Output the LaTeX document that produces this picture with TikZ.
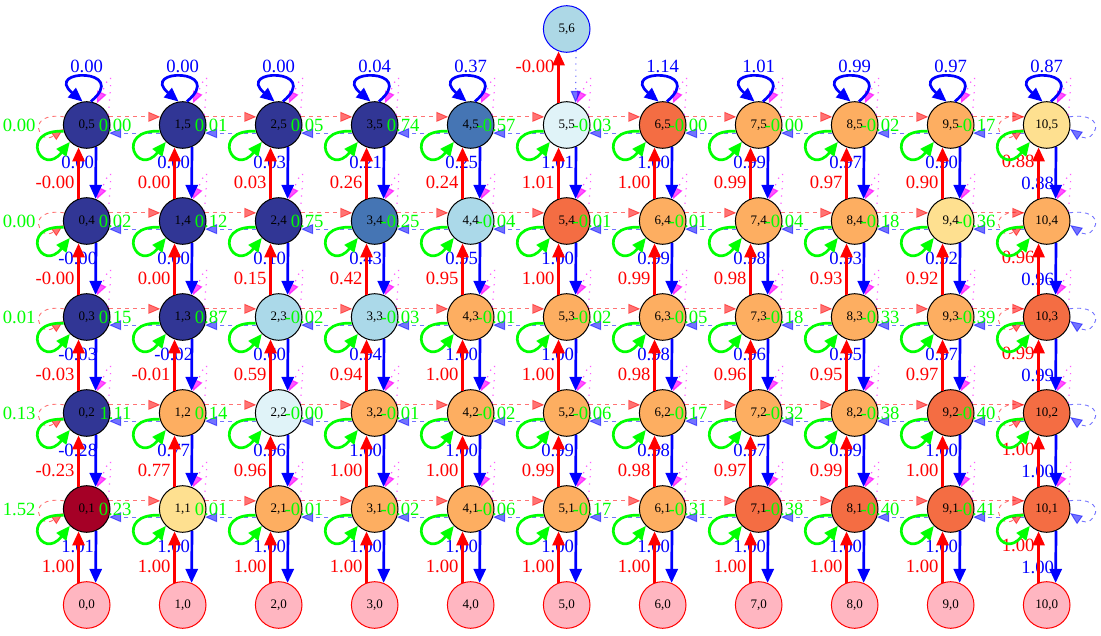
\documentclass[tikz,border=0pt]{standalone}
\usepackage{fontspec}
\setmainfont{Liberation Serif}
\usetikzlibrary{arrows.meta}
\definecolor{cN}{HTML}{313695}
\definecolor{cS}{HTML}{4575B4}
\definecolor{cL}{HTML}{ABD9E9}
\definecolor{cW}{HTML}{E0F3F8}
\definecolor{cY}{HTML}{FEE090}
\definecolor{cO}{HTML}{FDAE61}
\definecolor{cR}{HTML}{F46D43}
\definecolor{cD}{HTML}{A50026}
\definecolor{grn}{HTML}{00FF00}
\definecolor{pinkfill}{HTML}{FFB6C1}
\definecolor{lblue}{HTML}{ADD8E6}
\definecolor{mag}{HTML}{FF00FF}
\tikzset{
  st/.style={circle,draw=black,line width=1pt,minimum size=46.6pt,inner sep=0pt,font=\fontsize{13}{13}\selectfont},
  basest/.style={st,draw=red,fill=pinkfill},
  topst/.style={st,draw=blue,fill=lblue},
  lab/.style={inner sep=0pt,font=\fontsize{18.67}{19}\selectfont},
  bigtip/.style={-{Triangle[length=14pt,width=12pt]}},
  smalltip/.style={-{Triangle[length=12pt,width=10pt]}},
  upedge/.style={red,line width=2.7pt,bigtip},
  downedge/.style={blue,line width=2.7pt,bigtip},
  grloop/.style={grn,line width=2.7pt,bigtip},
  rdash/.style={red,opacity=0.55,line width=0.9pt,dash pattern=on 4pt off 4pt,smalltip},
  bdash/.style={blue,opacity=0.55,line width=0.9pt,dash pattern=on 4pt off 4pt,smalltip},
  bdot/.style={blue,opacity=0.55,line width=1.1pt,dash pattern=on 1.2pt off 5pt,smalltip},
  magloop/.style={mag,opacity=0.65,line width=1.2pt,dash pattern=on 1.2pt off 6pt,smalltip},
}
% i / colour / green loop label / red up label / blue down label
\def\rowE{0/N/0.00/-0.00/0.00,1/N/0.00/0.00/0.00,2/N/0.01/0.03/0.03,3/N/0.05/0.26/0.21,4/S/0.74/0.24/0.25,5/W/-0.57/1.01/1.01,6/R/-0.03/1.00/1.00,7/O/-0.00/0.99/0.99,8/O/-0.00/0.97/0.97,9/O/-0.02/0.90/0.90,10/Y/-0.17/0.88/0.88}
\def\rowD{0/N/0.00/-0.00/-0.00,1/N/0.02/0.00/0.00,2/N/0.12/0.15/0.10,3/S/0.75/0.42/0.43,4/L/-0.25/0.95/0.95,5/R/-0.04/1.00/1.00,6/O/-0.01/0.99/0.99,7/O/-0.01/0.98/0.98,8/O/-0.04/0.93/0.93,9/Y/-0.18/0.92/0.92,10/O/-0.36/0.96/0.96}
\def\rowC{0/N/0.01/-0.03/-0.03,1/N/0.15/-0.01/-0.02,2/L/0.87/0.59/0.60,3/L/-0.02/0.94/0.94,4/O/-0.03/1.00/1.00,5/O/-0.01/1.00/1.00,6/O/-0.02/0.98/0.98,7/O/-0.05/0.96/0.96,8/O/-0.18/0.95/0.95,9/O/-0.33/0.97/0.97,10/R/-0.39/0.99/0.99}
\def\rowB{0/N/0.13/-0.23/-0.28,1/O/1.11/0.77/0.77,2/W/0.14/0.96/0.96,3/O/-0.00/1.00/1.00,4/O/-0.01/1.00/1.00,5/O/-0.02/0.99/0.99,6/O/-0.06/0.98/0.98,7/O/-0.17/0.97/0.97,8/O/-0.32/0.99/0.99,9/R/-0.38/1.00/1.00,10/R/-0.40/1.00/1.00}
\def\rowA{0/D/1.52/1.00/1.01,1/Y/0.23/1.00/1.00,2/O/0.01/1.00/1.00,3/O/-0.01/1.00/1.00,4/O/-0.02/1.00/1.00,5/O/-0.06/1.00/1.00,6/O/-0.17/1.00/1.00,7/R/-0.31/1.00/1.00,8/R/-0.38/1.00/1.00,9/R/-0.40/1.00/1.00,10/R/-0.41/1.00/1.00}
\newcommand\nodesrow[2]{%
  \foreach \i/\colr/\glab/\rlab/\blab in #2 {%
    \node[st,fill=c\colr] (n-\i-#1) at ({86.7+96*\i},{-605+96*#1}) {\i,#1};
  }}
\newcommand\edgesrow[2]{%
  \foreach \i/\colr/\glab/\rlab/\blab in #2 {%
    \pgfmathtruncatemacro\jm{#1-1}%
    \pgfmathtruncatemacro\im{\i-1}%
    \pgfmathtruncatemacro\ip{\i+1}%
    \pgfmathsetmacro\cx{86.7+96*\i}%
    \pgfmathsetmacro\cy{-605+96*#1}%
    \pgfmathsetmacro\my{\cy-48}%
    \ifnum\i=0
      \draw[rdash] (n-\i-#1.160) .. controls +(172:40) and +(215:30) .. (n-\i-#1.190);
    \else
      \draw[rdash] (n-\im-#1.20) -- (n-\i-#1.160);
    \fi
    \ifnum\i=10
      \draw[rdash] (n-\i-#1.160) .. controls +(172:40) and +(215:30) .. (n-\i-#1.190);
      \draw[bdash] (n-\i-#1.20) .. controls +(8:42) and +(325:30) .. (n-\i-#1.350);
    \else
      \draw[bdash] (n-\ip-#1.200) -- (n-\i-#1.340);
    \fi
    \draw[downedge] (n-\i-#1.293) -- (n-\i-\jm.68);
    \ifnum\i=10
      \node[lab,text=blue] (bl-\i-#1) at ({\cx-9},{\my-10}) {\blab};
    \else
      \node[lab,text=blue] (bl-\i-#1) at ({\cx-9},{\my+11}) {\blab};
    \fi
    \draw[upedge] (n-\i-\jm.110) -- (n-\i-#1.250);
    \ifnum\i=10
      \node[lab,text=red,anchor=east] (rl-\i-#1) at ({\cx-12},{\my+12}) {\rlab};
    \else
      \node[lab,text=red,anchor=east] (rl-\i-#1) at ({\cx-12},{\my-9}) {\rlab};
    \fi
    \draw[grloop] (n-\i-#1.195) .. controls +(178:46) and +(232:46) .. (n-\i-#1.225);
    \node[lab,text=grn,anchor=east] (gl-\i-#1) at ({\cx-51},{\cy}) {\glab};
    \draw[magloop] (n-\i-#1.25) .. controls +(85:48) and +(65:36) .. (n-\i-#1.65);
  }}
\begin{document}
\begin{tikzpicture}[x=1pt,y=1pt]
\useasboundingbox (0,0) rectangle (1101,-636);
\foreach \i in {0,...,10} {\node[basest] (n-\i-0) at ({86.7+96*\i},-605) {\i,0};}
\nodesrow{1}{\rowA}
\nodesrow{2}{\rowB}
\nodesrow{3}{\rowC}
\nodesrow{4}{\rowD}
\nodesrow{5}{\rowE}
\node[topst] (n-5-6) at (566.7,-29) {5,6};
\edgesrow{1}{\rowA}
\edgesrow{2}{\rowB}
\edgesrow{3}{\rowC}
\edgesrow{4}{\rowD}
\edgesrow{5}{\rowE}
\foreach \i/\t in {0/0.00,1/0.00,2/0.00,3/0.04,4/0.37,6/1.14,7/1.01,8/0.99,9/0.97,10/0.87} {
  \draw[downedge] (n-\i-5.80) .. controls +(40:52) and +(140:52) .. (n-\i-5.100);
  \node[lab,text=blue] (tl-\i) at ({86.7+96*\i},-66) {\t};
}
\draw[bdot] (n-5-6.293) -- (n-5-5.68);
\draw[upedge] (n-5-5.110) -- (n-5-6.250);
\node[lab,text=red,anchor=east] (rl-5-6) at (554.7,-66) {-0.00};
\end{tikzpicture}
\end{document}
